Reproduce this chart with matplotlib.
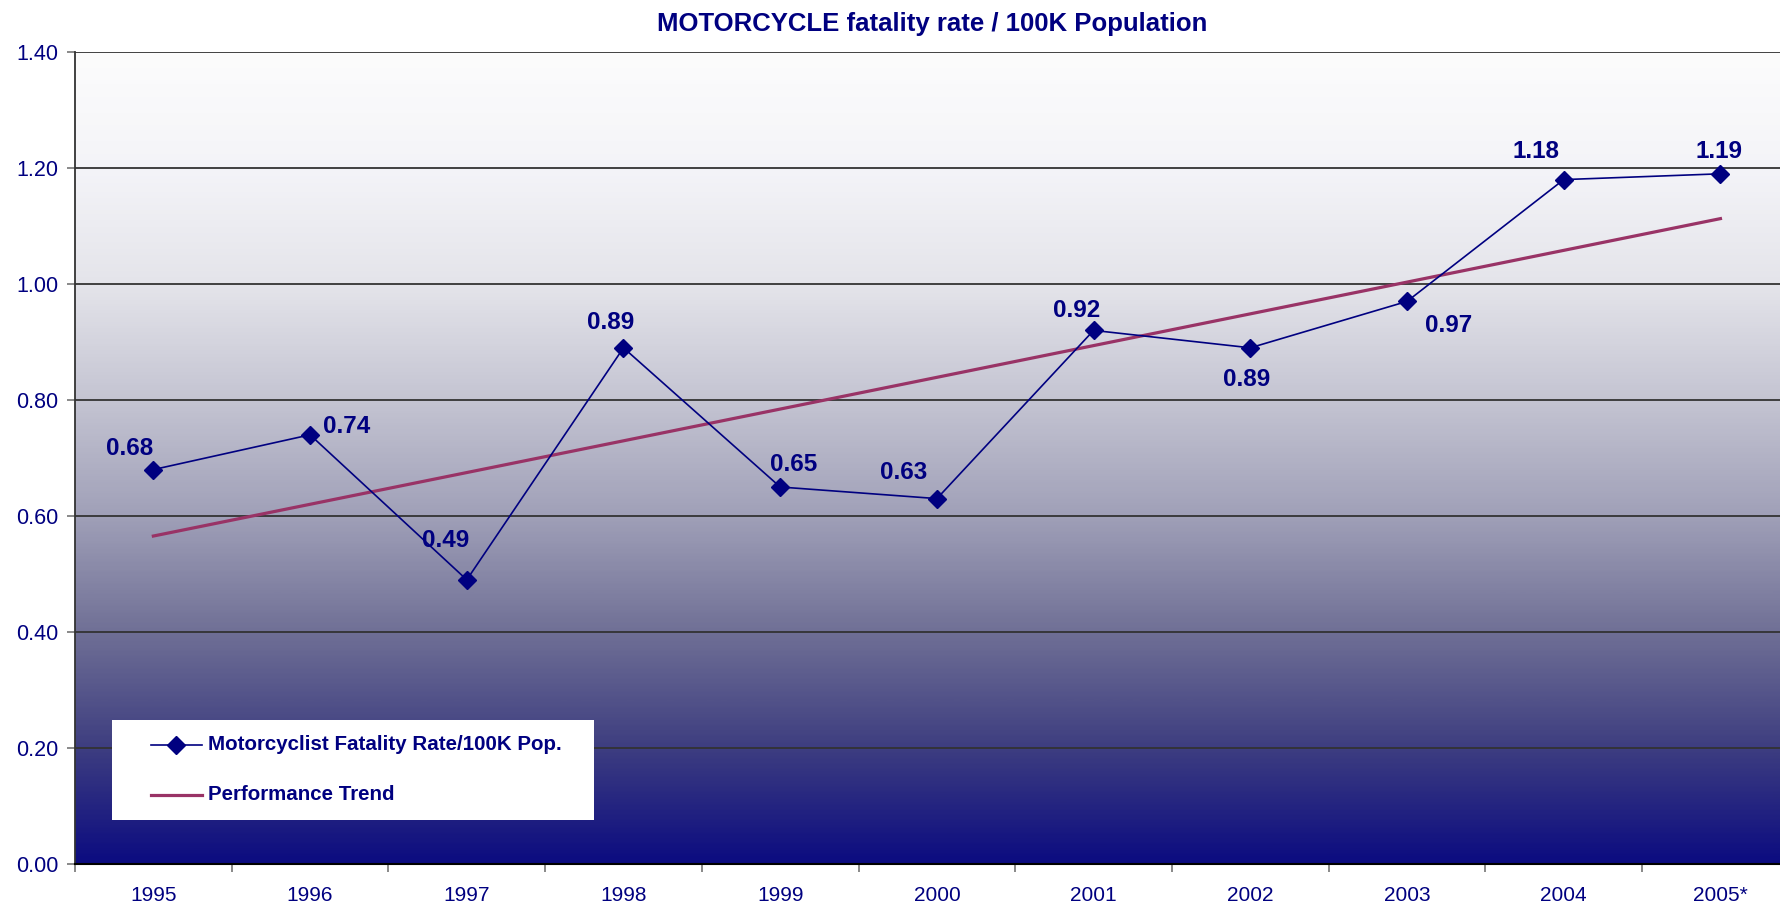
import numpy as np
import matplotlib
matplotlib.use("Agg")
import matplotlib.pyplot as plt
from matplotlib.colors import LinearSegmentedColormap

plt.rcParams['font.family'] = ['Liberation Sans', 'DejaVu Sans']

years = ['1995', '1996', '1997', '1998', '1999', '2000', '2001', '2002', '2003', '2004', '2005*']
rate = [0.68, 0.74, 0.49, 0.89, 0.65, 0.63, 0.92, 0.89, 0.97, 1.18, 1.19]
label_text = ['0.68', '0.74', '0.49', '0.89', '0.65', '0.63', '0.92', '0.89', '0.97', '1.18', '1.19']
yticks = [0.0, 0.2, 0.4, 0.6, 0.8, 1.0, 1.2, 1.4]
legend_labels = ['Motorcyclist Fatality Rate/100K Pop.', 'Performance Trend']

NAVY = '#000080'
TREND = '#993366'

# background gradient stops (value -> colour)
grad_levels = [0.0, 0.2, 0.4, 0.6, 0.8, 1.0, 1.2, 1.4]
grad_colors = ['#0c0c80', '#3e3e80', '#707096', '#a0a0b8', '#c4c4d2', '#e4e4ea', '#f4f4f8', '#fcfcfc']

fig = plt.figure(figsize=(17.8, 9.07), dpi=100)
fig.patch.set_facecolor('white')
ax = fig.add_axes([75/1780, 1 - 864/907, 1 - 75/1780, (864 - 52)/907])

x = np.arange(len(years))
XMAX = 10.38

cmap = LinearSegmentedColormap.from_list(
    'bg', [(l/1.4, c) for l, c in zip(grad_levels, grad_colors)])
grad = np.linspace(0, 1, 400).reshape(-1, 1)
ax.imshow(grad, cmap=cmap, aspect='auto', origin='lower',
          extent=[-0.5, XMAX, 0, 1.4], zorder=0)

for v in yticks[1:]:
    ax.axhline(v, color='#333333', lw=1.3, zorder=1)

# linear trend through the data
coef = np.polyfit(x, rate, 1)
trend = np.polyval(coef, x)
ax.plot(x, trend, color=TREND, lw=2.3, zorder=2)

ax.plot(x, rate, color=NAVY, lw=1.2, marker='D', markersize=9, zorder=3)

# data labels: offsets in points
offs = [(-17, 15), (26, 6), (-15, 28), (-9, 18), (10, 16), (-24, 19), (-12, 14),
        (-3, -23), (30, -17), (-20, 20), (-1, 16)]
for xi, yi, t, (dx, dy) in zip(x, rate, label_text, offs):
    ax.annotate(t, (xi, yi), xytext=(dx, dy), textcoords='offset points',
                ha='center', va='center', fontsize=17.5, fontweight='bold',
                color=NAVY, zorder=4)

ax.set_xticks(x)
ax.set_xticklabels(years, fontsize=15, color=NAVY)
ax.set_xticks(np.arange(-0.5, 10.6, 1), minor=True)
ax.tick_params(axis='x', which='major', length=0, pad=16)
ax.tick_params(axis='x', which='minor', length=6, color='#808080', width=1.3)
ax.set_yticks(yticks)
ax.set_yticklabels(['%.2f' % v for v in yticks], fontsize=15.5, color=NAVY)
ax.tick_params(axis='y', length=6, color='#808080', width=1.3, pad=6)
ax.set_xlim(-0.5, XMAX)
ax.set_ylim(0, 1.4)

for s in ['top', 'right']:
    ax.spines[s].set_visible(False)
ax.spines['left'].set_color('#333333')
ax.spines['bottom'].set_color('#000000')
ax.spines['left'].set_linewidth(1.3)
ax.spines['bottom'].set_linewidth(1.5)

fig.text(932/1780, 1 - 24/907, 'MOTORCYCLE fatality rate / 100K Population',
         ha='center', va='center', fontsize=18.5, fontweight='bold', color=NAVY)

# legend box drawn as a small white panel (pixel units inside the box)
lax = fig.add_axes([112/1780, 1 - 820/907, 482/1780, 100/907], zorder=5)
lax.set_facecolor('white')
lax.set_xlim(0, 482)
lax.set_ylim(100, 0)
lax.set_xticks([])
lax.set_yticks([])
for s in lax.spines.values():
    s.set_visible(False)
lax.plot([39, 90], [25, 25], color=NAVY, lw=1.2)
lax.plot([64], [25], color=NAVY, marker='D', markersize=9)
lax.plot([39, 90], [75, 75], color=TREND, lw=2.3)
for yy, lab in zip([25, 75], legend_labels):
    lax.text(96, yy, lab, ha='left', va='center', fontsize=14.8,
             fontweight='bold', color=NAVY)

fig.savefig('out.png', dpi=100)
